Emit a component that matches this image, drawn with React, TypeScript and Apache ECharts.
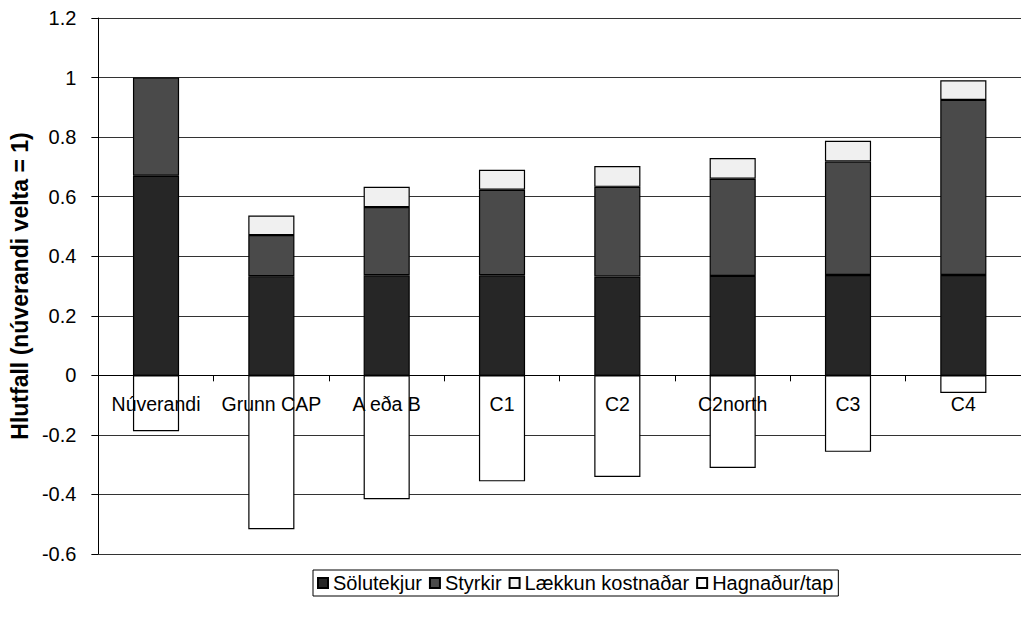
import React, { useEffect, useRef } from "react";
import * as echarts from "echarts";

const categories = ["Núverandi", "Grunn CAP", "A eða B", "C1", "C2", "C2north", "C3", "C4"];
const solutekjur = [0.67, 0.333, 0.336, 0.336, 0.332, 0.334, 0.337, 0.337];
const styrkir = [0.33, 0.138, 0.229, 0.287, 0.301, 0.326, 0.381, 0.588];
const laekkunKostnadar = [null, 0.066, 0.068, 0.067, 0.07, 0.07, 0.07, 0.066];
const hagnadurTap = [-0.188, -0.517, -0.416, -0.356, -0.341, -0.311, -0.257, -0.059];
const seriesNames = ["Sölutekjur", "Styrkir", "Lækkun kostnaðar", "Hagnaður/tap"];
const yMin = -0.6;
const yMax = 1.2;
const yStep = 0.2;

const FONT = "'Liberation Sans', Arial, sans-serif";

export default function App() {
  const ref = useRef<HTMLDivElement>(null);
  useEffect(() => {
    if (!ref.current) return;
    const chart = echarts.init(ref.current, null, { renderer: "svg" });
    const gridTop = 18;
    const gridBottom = 68;
    const plotH = 622 - gridTop - gridBottom;
    // place the category axis on the zero line
    const zeroOffset = -(plotH * (0 - yMin)) / (yMax - yMin);
    const mk = (name: string, data: any[], color: string) => ({
      name,
      type: "bar",
      stack: "total",
      data,
      barWidth: "40%",
      itemStyle: { color, borderColor: "#000", borderWidth: 1.2 },
    });
    chart.setOption({
      animation: false,
      backgroundColor: "#fff",
      textStyle: { fontFamily: FONT },
      grid: { left: 96, right: -10, top: gridTop, bottom: gridBottom },
      legend: {
        data: seriesNames,
        left: 313,
        top: 570,
        orient: "horizontal",
        icon: "rect",
        itemWidth: 10,
        itemHeight: 10,
        itemGap: 7,
        padding: [3, 5, 3, 4],
        borderColor: "#000",
        borderWidth: 1,
        textStyle: { fontSize: 20, color: "#000", fontFamily: FONT },
      },
      xAxis: {
        type: "category",
        data: categories,
        z: 10,
        offset: zeroOffset,
        axisLine: { onZero: false, lineStyle: { color: "#000", width: 1 } },
        axisTick: { show: true, length: 6, lineStyle: { color: "#000" } },
        axisLabel: {
          fontSize: 19.5,
          color: "#000",
          margin: 19,
          interval: 0,
          hideOverlap: false,
          fontFamily: FONT,
        },
        splitLine: { show: false },
      },
      yAxis: {
        type: "value",
        min: yMin,
        max: yMax,
        interval: yStep,
        name: "Hlutfall (núverandi velta = 1)",
        nameLocation: "middle",
        nameRotate: 90,
        nameGap: 58,
        nameTextStyle: { fontSize: 23, fontWeight: "bold", color: "#000", fontFamily: FONT },
        axisLine: { show: true, lineStyle: { color: "#000", width: 1 } },
        axisTick: { show: true, length: 7, lineStyle: { color: "#000" } },
        axisLabel: {
          fontSize: 20,
          color: "#000",
          margin: 22,
          fontFamily: FONT,
          formatter: (v: number) => String(Math.round(v * 10) / 10),
        },
        splitLine: { show: true, lineStyle: { color: "#333", width: 1 } },
      },
      series: [
        mk(seriesNames[0], solutekjur, "#262626"),
        mk(seriesNames[1], styrkir, "#4a4a4a"),
        mk(seriesNames[2], laekkunKostnadar, "#f0f0f0"),
        mk(seriesNames[3], hagnadurTap, "#ffffff"),
      ],
    });
    return () => chart.dispose();
  }, []);
  return (
    <div
      ref={ref}
      style={{ position: "absolute", left: 0, top: 0, width: 1021, height: 622 }}
    />
  );
}
